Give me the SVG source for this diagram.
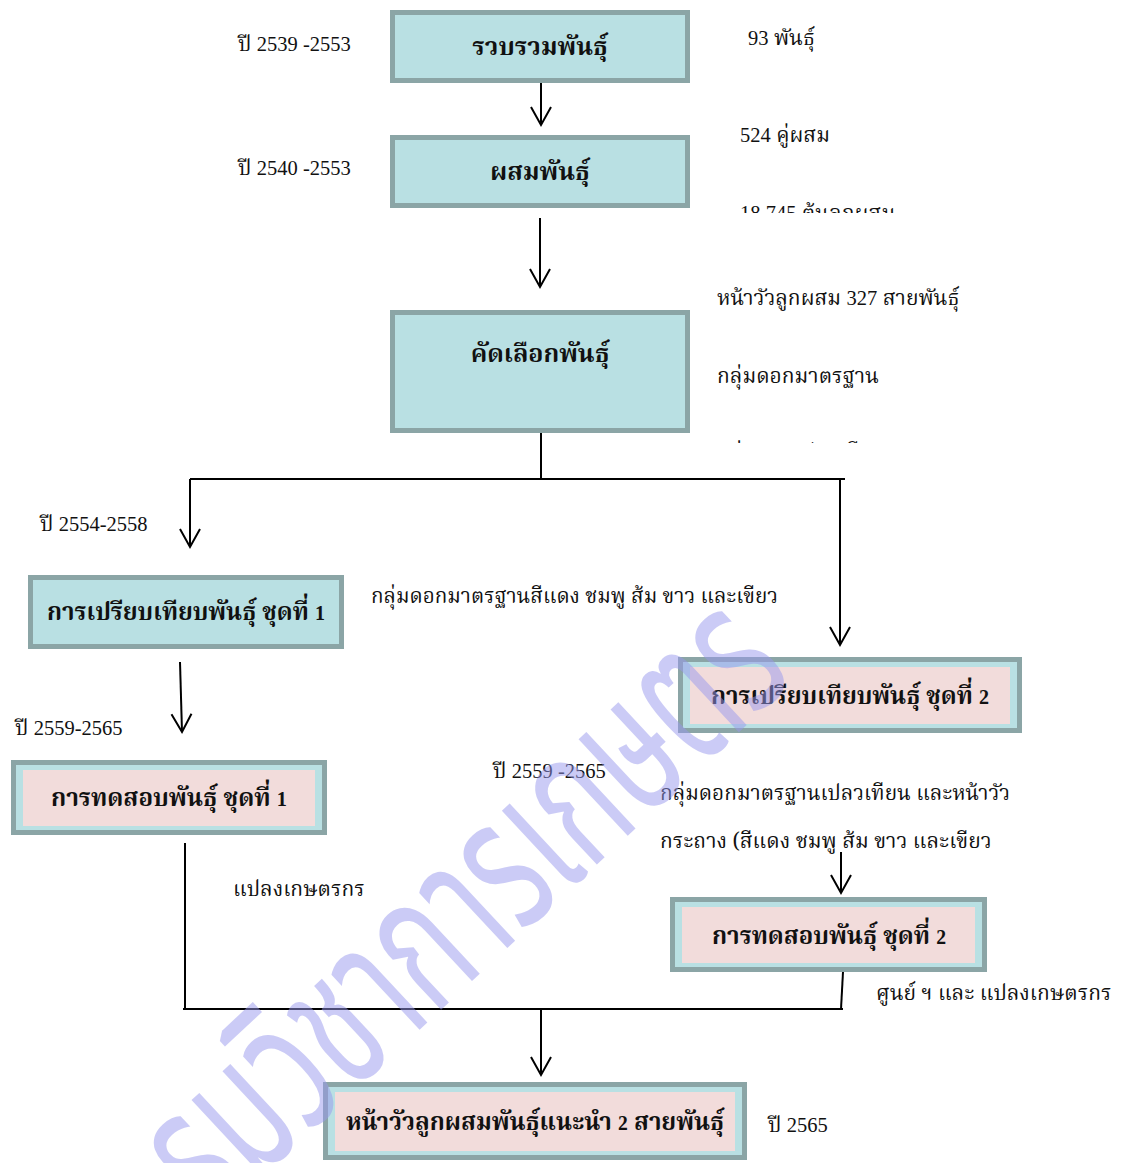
<svg xmlns="http://www.w3.org/2000/svg" width="1124" height="1163" viewBox="0 0 1124 1163">
<defs>
<style>
.t{font-family:"Noto Serif Thai","Noto Sans Thai","Liberation Serif",serif;font-size:21px;fill:#111}
.b{font-family:"Noto Serif Thai","Noto Sans Thai","Liberation Serif",serif;font-size:25px;font-weight:bold;fill:#111;text-anchor:middle}
.d{font-family:"Liberation Serif",serif;font-size:20.5px}
.db{font-family:"Liberation Serif",serif;font-size:21px}
.cy{fill:#B9E0E3;stroke:#8BA5A6;stroke-width:5}
.pk{fill:#F2DCDB}
.ln{stroke:#000;stroke-width:2;fill:none}
.wm{font-family:"Noto Sans Thai","Noto Sans",sans-serif;font-size:190px;fill:#9999EE;opacity:0.5}
</style>
<marker id="ah" markerUnits="userSpaceOnUse" markerWidth="24" markerHeight="24" refX="21" refY="12" orient="auto" viewBox="0 0 24 24">
<path d="M3,2 L21,12 L3,22" fill="none" stroke="#000" stroke-width="2"/>
</marker>
<clipPath id="c1"><rect x="700" y="190" width="300" height="23"/></clipPath>
<clipPath id="c2"><rect x="700" y="420" width="300" height="23"/></clipPath>
</defs>
<g id="connectors">
<line class="ln" x1="541" y1="83" x2="541" y2="125" marker-end="url(#ah)"/>
<line class="ln" x1="540" y1="218" x2="540" y2="287" marker-end="url(#ah)"/>
<line class="ln" x1="541" y1="433" x2="541" y2="479"/>
<line class="ln" x1="190" y1="479" x2="845" y2="479"/>
<line class="ln" x1="190" y1="479" x2="190" y2="547" marker-end="url(#ah)"/>
<line class="ln" x1="840" y1="479" x2="840" y2="645" marker-end="url(#ah)"/>
<line class="ln" x1="180" y1="662" x2="182" y2="732" marker-end="url(#ah)"/>
<line class="ln" x1="841" y1="852" x2="841" y2="893" marker-end="url(#ah)"/>
<line class="ln" x1="185" y1="843" x2="185" y2="1009"/>
<line class="ln" x1="183" y1="1009" x2="843" y2="1009"/>
<line class="ln" x1="843" y1="972" x2="841" y2="1009"/>
<line class="ln" x1="541" y1="1009" x2="541" y2="1075" marker-end="url(#ah)"/>
</g>
<g id="n1"><rect class="cy" x="392.5" y="12.5" width="295" height="68"/><text class="b" x="540" y="55">รวบรวมพันธุ์</text></g>
<g id="n2"><rect class="cy" x="392.5" y="137.5" width="295" height="68"/><text class="b" x="540" y="180">ผสมพันธุ์</text></g>
<g id="n3"><rect class="cy" x="392.5" y="312.5" width="295" height="118"/><text class="b" x="540" y="362">คัดเลือกพันธุ์</text></g>
<g id="n4"><rect class="cy" x="30.5" y="577.5" width="311" height="69"/><text class="b" x="186" y="620" textLength="278" lengthAdjust="spacingAndGlyphs">การเปรียบเทียบพันธุ์ ชุดที่ <tspan class="db">1</tspan></text></g>
<g id="n5"><rect class="cy" x="13.5" y="762.5" width="311" height="70"/><rect class="pk" x="23" y="770" width="292" height="56"/><text class="b" x="169" y="806" textLength="236" lengthAdjust="spacingAndGlyphs">การทดสอบพันธุ์ ชุดที่ <tspan class="db">1</tspan></text></g>
<g id="n6"><rect class="cy" x="680.5" y="659.5" width="339" height="71"/><rect class="pk" x="690" y="667" width="320" height="57"/><text class="b" x="850" y="704" textLength="278" lengthAdjust="spacingAndGlyphs">การเปรียบเทียบพันธุ์ ชุดที่ <tspan class="db">2</tspan></text></g>
<g id="n7"><rect class="cy" x="672.5" y="899.5" width="312" height="70"/><rect class="pk" x="682" y="907" width="293" height="56"/><text class="b" x="829" y="944" textLength="234" lengthAdjust="spacingAndGlyphs">การทดสอบพันธุ์ ชุดที่ <tspan class="d">2</tspan></text></g>
<g id="n8"><rect class="cy" x="325.5" y="1084.5" width="419" height="73"/><rect class="pk" x="335" y="1092" width="400" height="59"/><text class="b" x="535" y="1130" textLength="378" lengthAdjust="spacingAndGlyphs">หน้าวัวลูกผสมพันธุ์แนะนำ <tspan class="d">2</tspan> สายพันธุ์</text></g>
<g id="labels">
<text class="t" x="238" y="51">ปี <tspan class="d">2539 -2553</tspan></text>
<text class="t" x="748" y="45"><tspan class="d">93</tspan> พันธุ์</text>
<text class="t" x="238" y="175">ปี <tspan class="d">2540 -2553</tspan></text>
<text class="t" x="740" y="142"><tspan class="d">524</tspan> คู่ผสม</text>
<text class="t" x="740" y="220" clip-path="url(#c1)"><tspan class="d">18,745</tspan> ต้นลูกผสม</text>
<text class="t" x="717" y="305">หน้าวัวลูกผสม <tspan class="d">327</tspan> สายพันธุ์</text>
<text class="t" x="717" y="383">กลุ่มดอกมาตรฐาน</text>
<text class="t" x="717" y="459" clip-path="url(#c2)">กลุ่มดอกเปลวเทียน</text>
<text class="t" x="40" y="531">ปี <tspan class="d">2554-2558</tspan></text>
<text class="t" x="371" y="603" textLength="407" lengthAdjust="spacingAndGlyphs">กลุ่มดอกมาตรฐานสีแดง ชมพู ส้ม ขาว และเขียว</text>
<text class="t" x="15" y="735">ปี <tspan class="d">2559-2565</tspan></text>
<text class="t" x="493" y="778">ปี <tspan class="d">2559 -2565</tspan></text>
<text class="t" x="660" y="800" textLength="350" lengthAdjust="spacingAndGlyphs">กลุ่มดอกมาตรฐานเปลวเทียน และหน้าวัว</text>
<text class="t" x="660" y="848">กระถาง (สีแดง ชมพู ส้ม ขาว และเขียว</text>
<text class="t" x="233" y="896">แปลงเกษตรกร</text>
<text class="t" x="876" y="1000">ศูนย์ ฯ และ แปลงเกษตรกร</text>
<text class="t" x="768" y="1132">ปี <tspan class="d">2565</tspan></text>
</g>
<text class="wm" x="0" y="0" transform="translate(160,1272) rotate(-43)" textLength="870" lengthAdjust="spacingAndGlyphs">กรมวิชาการเกษตร</text>
</svg>
